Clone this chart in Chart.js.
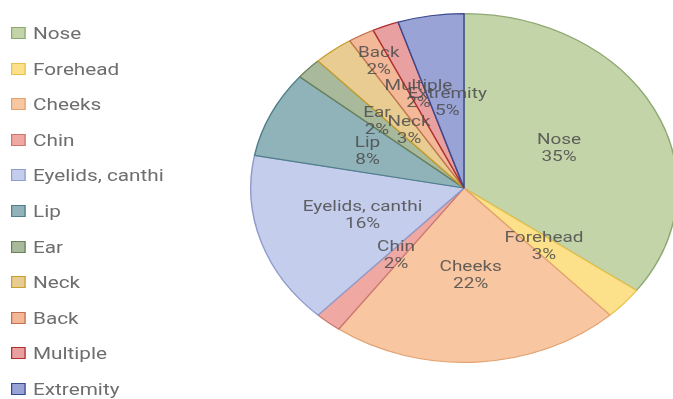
<!DOCTYPE html>
<html>
<head>
<meta charset="utf-8">
<script src="https://cdn.jsdelivr.net/npm/chart.js@4"></script>
<style>
    html, body { margin: 0; padding: 0; background: #fff; overflow: hidden; }
    #wrap { position: relative; width: 673px; height: 399px; }
    #grafico { position: absolute; left: 0; top: 0; }
    #legenda { position: absolute; left: 11px; top: 23px; font-family: Roboto, sans-serif; font-size: 17px; color: #6e6e6e;
               transform: scaleX(1.22); transform-origin: 0 0; }
    .item { height: 35.6px; display: flex; align-items: flex-start; white-space: nowrap; }
    .caixa { width: 10px; height: 10px; border: 1px solid; margin: 4px 6px 0 0; }
</style>
</head>
<body>
<div id="wrap">
    <canvas id="grafico" width="673" height="399"></canvas>
    <div id="legenda"></div>
</div>
<script>
const locais = ['Nose', 'Forehead', 'Cheeks', 'Chin', 'Eyelids, canthi', 'Lip', 'Ear', 'Neck', 'Back', 'Multiple', 'Extremity'];
const percentuais = [35, 3, 22, 2, 16, 8, 2, 3, 2, 2, 5];
const cores = ['#c3d4a9', '#fde08a', '#f8c7a2', '#f0a9a2', '#c4cdec', '#90b3b9', '#a9b99b', '#e8cc92', '#f2b898', '#e8a0a0', '#99a3d5'];
const bordas = ['#8fa872', '#e8c24c', '#e3a272', '#c97870', '#8f9ccc', '#4e7f8a', '#6b805a', '#c8a030', '#c07050', '#b03030', '#3a4a90'];

// a imagem original esta esticada na horizontal (pizza vira elipse)
const esticar = 214 / 175;
// distancia do rotulo ao centro (fracao do raio), alguns foram deslocados
const distRotulo = [0.5, 0.5, 0.5, 0.5, 0.5, 0.5, 0.56, 0.42, 0.83, 0.58, 0.5];

// legenda em html, montada a partir dos arrays
const legenda = document.getElementById('legenda');
locais.forEach((nome, i) => {
    const item = document.createElement('div');
    item.className = 'item';
    item.innerHTML = '<div class="caixa" style="background:' + cores[i] + ';border-color:' + bordas[i] + '"></div><span>' + nome + '</span>';
    legenda.appendChild(item);
});

const elipse = {
    id: 'elipse',
    beforeDatasetsDraw(chart) {
        const arco = chart.getDatasetMeta(0).data[0];
        const ctx = chart.ctx;
        ctx.save();
        ctx.translate(arco.x, arco.y);
        ctx.scale(esticar, 1);
        ctx.translate(-arco.x, -arco.y);
    },
    afterDatasetsDraw(chart) {
        const ctx = chart.ctx;
        ctx.restore();

        // rotulos dentro das fatias
        chart.getDatasetMeta(0).data.forEach((arco, i) => {
            const meio = (arco.startAngle + arco.endAngle) / 2;
            const r = arco.outerRadius * distRotulo[i];
            const x = arco.x + Math.cos(meio) * r * esticar;
            const y = arco.y + Math.sin(meio) * r;
            ctx.save();
            ctx.translate(x, y);
            ctx.scale(esticar, 1);
            ctx.font = '15.5px Roboto, sans-serif';
            ctx.fillStyle = 'rgba(75, 75, 75, 0.85)';
            ctx.textAlign = 'center';
            ctx.textBaseline = 'middle';
            ctx.fillText(locais[i], 0, -8);
            ctx.fillText(percentuais[i] + '%', 0, 9);
            ctx.restore();
        });
    }
};

const ctxGrafico = document.getElementById('grafico').getContext('2d');
const grafico = new Chart(ctxGrafico, {
    type: 'pie',
    data: {
        labels: locais,
        datasets: [{
            data: percentuais,
            backgroundColor: cores,
            borderColor: bordas,
            borderWidth: 1.2,
            clip: false
        }]
    },
    options: {
        responsive: false,
        animation: false,
        events: [],
        layout: {
            padding: { top: 13, bottom: 36, left: 255, right: 0 }
        },
        plugins: {
            legend: { display: false },
            tooltip: { enabled: false }
        }
    },
    plugins: [elipse]
});
</script>
</body>
</html>
